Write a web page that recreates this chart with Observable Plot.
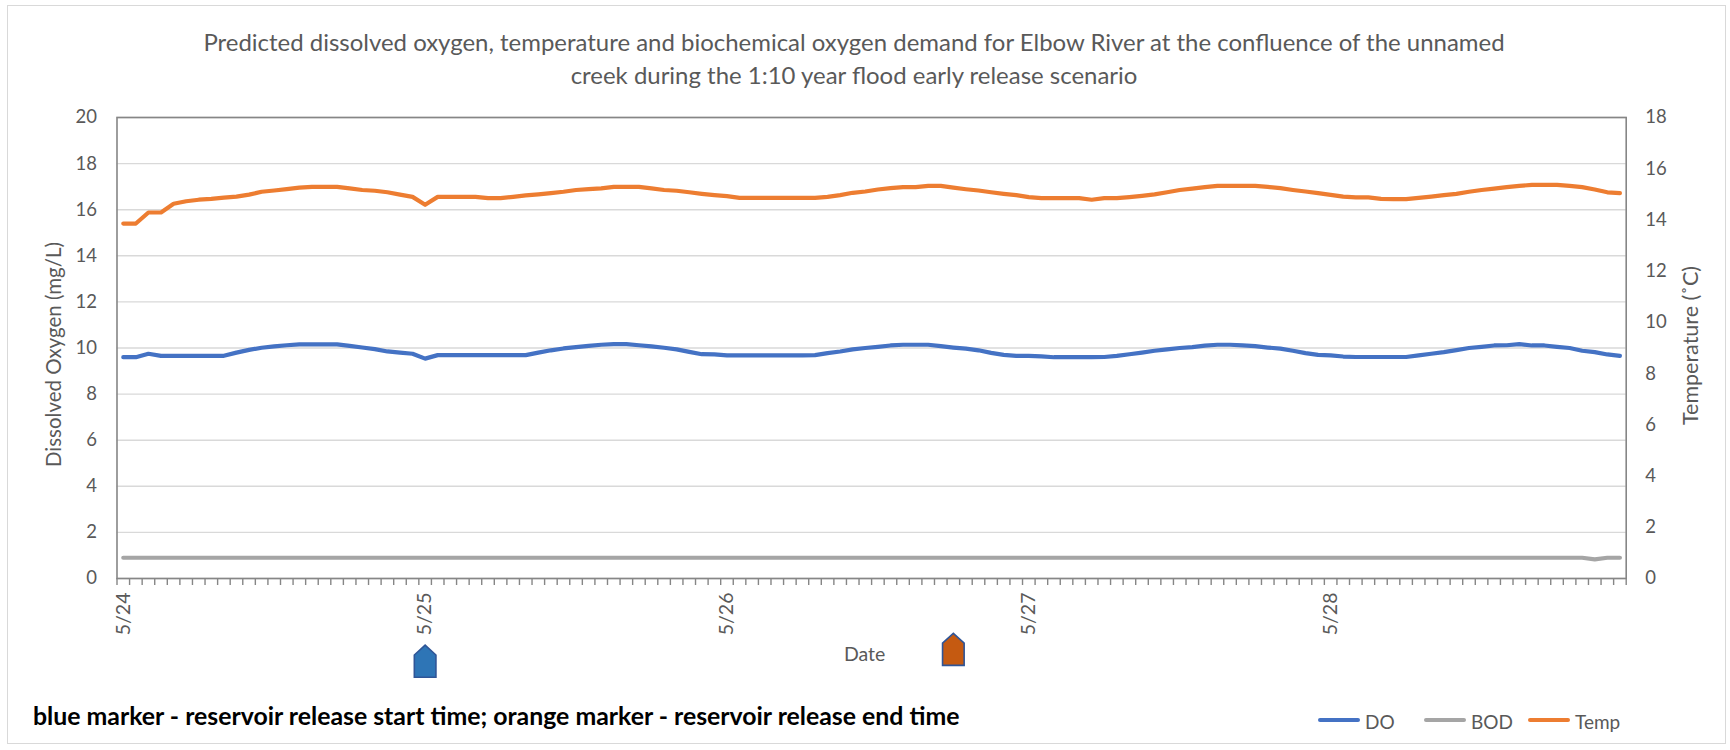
<!DOCTYPE html>
<html>
<head>
<meta charset="utf-8">
<script src="https://cdn.jsdelivr.net/npm/d3@7"></script>
<script src="https://cdn.jsdelivr.net/npm/@observablehq/plot@0.6"></script>
<style>
  html, body { margin: 0; padding: 0; background: #fff; }
  #wrap { position: relative; width: 1730px; height: 750px; overflow: hidden; font-family: Lato, "Open Sans", sans-serif; }
  #border { position: absolute; left: 7px; top: 5px; width: 1719px; height: 739px; border: 1.5px solid #d9d9d9; box-sizing: border-box; }
  #chart { position: absolute; left: 0; top: 0; }
  .title { position: absolute; left: 54px; width: 1600px; text-align: center; color: #595959; white-space: nowrap; line-height: 1; }
  #caption { position: absolute; left: 33px; color: #000; font-weight: 700; white-space: nowrap; line-height: 1; }
  .leg { position: absolute; color: #595959; white-space: nowrap; line-height: 1; font-size: 19px; }
  .sw { position: absolute; height: 4px; border-radius: 2px; }
</style>
</head>
<body>
<div id="wrap">
  <div id="border"></div>
  <div id="chart"></div>
  <div class="title" id="t1">Predicted dissolved oxygen, temperature and biochemical oxygen demand for Elbow River at the confluence of the unnamed</div>
  <div class="title" id="t2">creek during the 1:10 year flood early release scenario</div>
  <div id="caption">blue marker - reservoir release start time; orange marker - reservoir release end time</div>
  <div id="legend"></div>
</div>
<script>
// ---- data (hourly, 5/24 00:00 .. 5/28 23:00) ----
const dayLabels = ["5/24", "5/25", "5/26", "5/27", "5/28"];
const dayTicks = [0, 24, 48, 72, 96];           // hour index of each day label
const yTicks = [0, 2, 4, 6, 8, 10, 12, 14, 16, 18, 20];
const tempTicks = [0, 2, 4, 6, 8, 10, 12, 14, 16, 18];

// Dissolved oxygen (mg/L)
const DO = [
  9.60, 9.60, 9.75, 9.66, 9.66, 9.66, 9.66, 9.66, 9.66, 9.80, 9.92, 10.01, 10.07, 10.12, 10.16, 10.16, 10.16, 10.16, 10.09, 10.02, 9.95, 9.85, 9.80, 9.75,
  9.54, 9.69, 9.69, 9.69, 9.69, 9.69, 9.69, 9.69, 9.69, 9.80, 9.90, 9.98, 10.04, 10.09, 10.14, 10.17, 10.17, 10.12, 10.07, 10.01, 9.94, 9.83, 9.73, 9.72,
  9.68, 9.68, 9.68, 9.68, 9.68, 9.68, 9.68, 9.69, 9.78, 9.85, 9.94, 10.00, 10.05, 10.11, 10.14, 10.14, 10.14, 10.08, 10.02, 9.97, 9.90, 9.79, 9.70, 9.66,
  9.66, 9.64, 9.60, 9.60, 9.60, 9.60, 9.61, 9.66, 9.73, 9.80, 9.88, 9.94, 10.00, 10.04, 10.10, 10.14, 10.14, 10.11, 10.08, 10.02, 9.97, 9.88, 9.78, 9.70,
  9.68, 9.63, 9.61, 9.61, 9.61, 9.61, 9.61, 9.68, 9.75, 9.82, 9.91, 10.00, 10.05, 10.11, 10.12, 10.17, 10.11, 10.11, 10.05, 10.00, 9.88, 9.82, 9.72, 9.66
];
// Biochemical oxygen demand (mg/L)
const BOD = [
  0.90, 0.90, 0.90, 0.90, 0.90, 0.90, 0.90, 0.90, 0.90, 0.90, 0.90, 0.90, 0.90, 0.90, 0.90, 0.90, 0.90, 0.90, 0.90, 0.90, 0.90, 0.90, 0.90, 0.90,
  0.90, 0.90, 0.90, 0.90, 0.90, 0.90, 0.90, 0.90, 0.90, 0.90, 0.90, 0.90, 0.90, 0.90, 0.90, 0.90, 0.90, 0.90, 0.90, 0.90, 0.90, 0.90, 0.90, 0.90,
  0.90, 0.90, 0.90, 0.90, 0.90, 0.90, 0.90, 0.90, 0.90, 0.90, 0.90, 0.90, 0.90, 0.90, 0.90, 0.90, 0.90, 0.90, 0.90, 0.90, 0.90, 0.90, 0.90, 0.90,
  0.90, 0.90, 0.90, 0.90, 0.90, 0.90, 0.90, 0.90, 0.90, 0.90, 0.90, 0.90, 0.90, 0.90, 0.90, 0.90, 0.90, 0.90, 0.90, 0.90, 0.90, 0.90, 0.90, 0.90,
  0.90, 0.90, 0.90, 0.90, 0.90, 0.90, 0.90, 0.90, 0.90, 0.90, 0.90, 0.90, 0.90, 0.90, 0.90, 0.90, 0.90, 0.90, 0.90, 0.90, 0.90, 0.83, 0.90, 0.90
];
// Water temperature (°C, right axis)
const Temp = [
  13.86, 13.86, 14.29, 14.29, 14.63, 14.73, 14.79, 14.82, 14.87, 14.91, 14.99, 15.10, 15.15, 15.20, 15.26, 15.29, 15.29, 15.29, 15.23, 15.17, 15.14, 15.08, 14.99, 14.90,
  14.59, 14.90, 14.90, 14.90, 14.90, 14.85, 14.85, 14.90, 14.96, 15.00, 15.05, 15.10, 15.17, 15.20, 15.23, 15.29, 15.29, 15.29, 15.23, 15.17, 15.14, 15.08, 15.02, 14.97,
  14.93, 14.86, 14.86, 14.86, 14.86, 14.86, 14.86, 14.86, 14.90, 14.97, 15.06, 15.11, 15.19, 15.24, 15.28, 15.28, 15.33, 15.33, 15.26, 15.20, 15.15, 15.08, 15.02, 14.97,
  14.89, 14.85, 14.85, 14.85, 14.85, 14.79, 14.85, 14.85, 14.89, 14.94, 15.00, 15.08, 15.17, 15.22, 15.28, 15.33, 15.33, 15.33, 15.33, 15.29, 15.24, 15.17, 15.11, 15.05,
  14.98, 14.91, 14.88, 14.88, 14.82, 14.81, 14.81, 14.86, 14.91, 14.97, 15.02, 15.10, 15.17, 15.22, 15.28, 15.33, 15.37, 15.37, 15.37, 15.33, 15.28, 15.19, 15.08, 15.05
];
// reservoir release markers (hour index)
const releaseStart = [24];
const releaseEnd = [66];

const seriesNames = ["DO", "BOD", "Temp"];
const seriesColors = ["#4472C4", "#A5A5A5", "#ED7D31"];

// ---- layout ----
const W = 1730, H = 750;
const plotL = 116.5, plotR = 1625.7, plotT = 117, plotB = 578;
const FONT = "Lato, 'Open Sans', sans-serif";

// secondary (temperature) axis mapped onto the primary y scale
const tempToY = d3.scaleLinear([0, 18], [0, 20]);
const hourBounds = d3.range(-0.5, DO.length, 1);

// house-shaped marker symbol
const house = {
  draw(ctx) {
    const w = 10.8, h = 16, s = -6.2;
    ctx.moveTo(-w, h); ctx.lineTo(-w, s); ctx.lineTo(0, -h); ctx.lineTo(w, s); ctx.lineTo(w, h); ctx.closePath();
  }
};

const idx = (d, i) => i;

const chart = Plot.plot({
  width: W, height: H,
  marginLeft: plotL, marginRight: W - plotR, marginTop: plotT, marginBottom: H - plotB,
  style: { fontFamily: FONT, fontSize: "18px", color: "#595959", background: "transparent", overflow: "visible" },
  x: { domain: [-0.5, DO.length - 0.5] },
  y: { domain: [0, 20] },
  marks: [
    Plot.gridY(yTicks, { stroke: "#d9d9d9", strokeOpacity: 1, strokeWidth: 1.4 }),
    Plot.frame({ stroke: "#868686", strokeWidth: 1.6 }),
    Plot.axisY(yTicks, { anchor: "left", tickSize: 0, tickPadding: 20, label: null, fill: "#595959", fontSize: 18.5 }),
    Plot.axisY(tempTicks.map(t => tempToY(t)), { anchor: "right", tickSize: 0, tickPadding: 19, label: null, fill: "#595959", fontSize: 18.5,
      tickFormat: d => String(Math.round(tempToY.invert(d))) }),
    Plot.axisX(hourBounds, { anchor: "bottom", tickSize: 7, stroke: "#868686", strokeWidth: 1.4, label: null, tickFormat: () => "" }),
    Plot.axisX(dayTicks, { anchor: "bottom", tickSize: 0, tickPadding: 14, tickRotate: -90, label: null, fill: "#595959", fontSize: 19.5,
      tickFormat: d => dayLabels[dayTicks.indexOf(d)] }),
    Plot.text(["Dissolved Oxygen (mg/L)"], { text: d => d, frameAnchor: "left", textAnchor: "middle", rotate: -90, dx: -63, dy: 6.5, fill: "#595959", fontSize: 20.5 }),
    Plot.text(["Temperature (˚C)"], { text: d => d, frameAnchor: "right", textAnchor: "middle", rotate: -90, dx: 65, dy: -2.5, fill: "#595959", fontSize: 21.5 }),
    Plot.text(["Date"], { text: d => d, frameAnchor: "bottom", dx: -7, dy: 82, fill: "#595959", fontSize: 19.5 }),
    Plot.line(DO, { x: idx, y: d => d, stroke: seriesColors[0], strokeWidth: 4.2, strokeLinejoin: "round", strokeLinecap: "round" }),
    Plot.line(BOD, { x: idx, y: d => d, stroke: seriesColors[1], strokeWidth: 4.2, strokeLinejoin: "round", strokeLinecap: "round" }),
    Plot.line(Temp, { x: idx, y: d => tempToY(d), stroke: seriesColors[2], strokeWidth: 4.2, strokeLinejoin: "round", strokeLinecap: "round" }),
    Plot.dot(releaseStart, { x: d => d, frameAnchor: "bottom", dy: 82.7, symbol: house, fill: "#2E75B6", stroke: "#2F5597", strokeWidth: 1.6 }),
    Plot.dot(releaseEnd, { x: d => d, frameAnchor: "bottom", dy: 70.9, symbol: house, fill: "#C55A11", stroke: "#2F5597", strokeWidth: 1.6 })
  ]
});
document.getElementById("chart").appendChild(chart);

// ---- fit fonts of title & caption to reference widths ----
const cv = document.createElement("canvas").getContext("2d");
function fit(text, weight, target) {
  cv.font = `${weight} 100px Lato`;
  return 100 * target / cv.measureText(text).width;
}
const t1 = document.getElementById("t1"), t2 = document.getElementById("t2");
const ts = fit(t1.textContent, 400, 1304);
[t1, t2].forEach(e => e.style.fontSize = ts + "px");
t1.style.top = (49.5 - 0.8 * ts) + "px";
t2.style.top = (82 - 0.8 * ts) + "px";
const cap = document.getElementById("caption");
const cs = fit(cap.textContent, 700, 929);
cap.style.fontSize = cs + "px";
cap.style.top = (723 - 0.8 * cs) + "px";

// ---- legend ----
const legend = document.getElementById("legend");
const legPos = [[1318, 1365], [1424, 1471], [1528, 1575]];
seriesNames.forEach((n, i) => {
  const sw = document.createElement("div");
  sw.className = "sw";
  sw.style.left = legPos[i][0] + "px"; sw.style.width = "42px"; sw.style.top = "718px";
  sw.style.background = seriesColors[i];
  legend.appendChild(sw);
  const tx = document.createElement("div");
  tx.className = "leg";
  tx.textContent = n;
  tx.style.left = legPos[i][1] + "px"; tx.style.top = (727 - 15.5) + "px";
  legend.appendChild(tx);
});
</script>
</body>
</html>
